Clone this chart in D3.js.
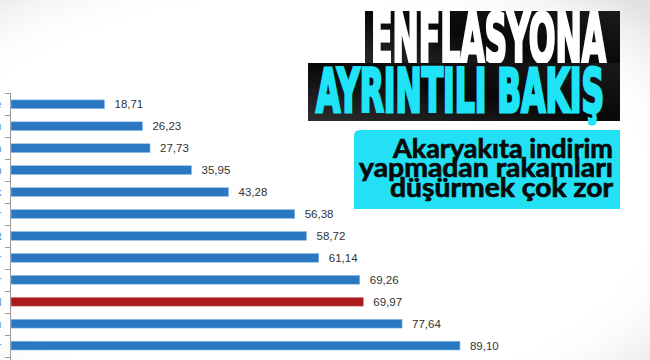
<!DOCTYPE html>
<html><head><meta charset="utf-8">
<script src="https://cdn.jsdelivr.net/npm/d3@7"></script>
<style>html,body{margin:0;padding:0;background:#fff;overflow:hidden}</style>
</head><body>
<script>
const categories = ["Haberleşme","Giyim ve ayakkabı","Eğitim","Alkollü içecekler ve tütün","Sağlık","Eğlence ve kültür","Konut","Çeşitli mal ve hizmetler","Lokanta ve oteller","Genel","Ev eşyası","Gıda ve alkolsüz içecekler"];
const values = [18.71,26.23,27.73,35.95,43.28,56.38,58.72,61.14,69.26,69.97,77.64,89.10];
const highlight = ["Genel"];
const titleLines = ["ENFLASYONA","AYRINTILI BAKIŞ"];
const subtitleLines = ["Akaryakıta indirim","yapmadan rakamları","düşürmek çok zor"];

const W = 650, H = 360;
const svg = d3.select("body").append("svg").attr("width", W).attr("height", H);
const defs = svg.append("defs");
const rg = defs.append("radialGradient").attr("id","vig").attr("cx","0.45").attr("cy","0.55").attr("r","0.75");
rg.append("stop").attr("offset","0.72").attr("stop-color","#ffffff").attr("stop-opacity",0);
rg.append("stop").attr("offset","1").attr("stop-color","#e2e2e2").attr("stop-opacity",1);
const bg = defs.append("linearGradient").attr("id","boxg").attr("x1","0").attr("y1","1").attr("x2","1").attr("y2","0");
bg.append("stop").attr("offset","0").attr("stop-color","#2e2e2e");
bg.append("stop").attr("offset","0.5").attr("stop-color","#080808");
bg.append("stop").attr("offset","1").attr("stop-color","#1a1a1a");

svg.append("rect").attr("width",W).attr("height",H).attr("fill","#fff");
svg.append("rect").attr("width",W).attr("height",H).attr("fill","url(#vig)");

const x = d3.scaleLinear().domain([0,100]).range([10,515]);
const y = d3.scaleBand().domain(categories).range([93.3,356.6]).paddingInner(0.6).paddingOuter(0.3);

const g = svg.append("g");
g.append("line").attr("x1",10.5).attr("x2",10.5).attr("y1",93).attr("y2",H).attr("stroke","#9a9a9a").attr("stroke-width",1);
const bounds = categories.map(c => y(c) - y.step()*y.paddingInner()/2).concat([y.range()[1]]);
g.selectAll("line.tick").data(bounds).join("line").attr("class","tick")
  .attr("x1",5).attr("x2",10).attr("y1",d=>Math.round(d)+0.5).attr("y2",d=>Math.round(d)+0.5)
  .attr("stroke","#9a9a9a");
// category labels, mostly outside the left edge as in the reference
g.selectAll("text.cat").data(categories).join("text").attr("class","cat")
  .attr("x",1.5).attr("y",d=>y(d)+y.bandwidth()/2+4).attr("text-anchor","end")
  .attr("font-family","Liberation Sans, Arial").attr("font-size",11).attr("fill","#5b8bb8").text(d=>d);
g.selectAll("rect.bar").data(categories).join("rect").attr("class","bar")
  .attr("x",x(0)+1).attr("y",d=>y(d)).attr("height",y.bandwidth())
  .attr("width",(d,i)=>x(values[i])-x(0)-1)
  .attr("fill",d=>highlight.includes(d)?"#ab1b1b":"#2b78c2")
  .attr("stroke",d=>highlight.includes(d)?"#d88a8a":"#8fbfe8").attr("stroke-width",0.6);
g.selectAll("text.val").data(categories).join("text").attr("class","val")
  .attr("x",(d,i)=>x(values[i])+10).attr("y",d=>y(d)+y.bandwidth()/2+4)
  .attr("font-family","Liberation Sans, Arial").attr("font-size",11.5).attr("fill","#333")
  .text((d,i)=>values[i].toFixed(2).replace(".",","));

// title boxes
svg.append("rect").attr("x",365).attr("y",11).attr("width",255).attr("height",60).attr("fill","url(#boxg)");
svg.append("text").attr("x",371).attr("y",62).attr("textLength",235).attr("lengthAdjust","spacingAndGlyphs")
  .attr("font-family","Liberation Sans Narrow, DejaVu Sans Condensed, Liberation Sans").attr("font-weight","bold")
  .attr("font-size",67).attr("fill","#fff").attr("stroke","#fff").attr("stroke-width",3.2).attr("stroke-linejoin","miter").text(titleLines[0]);
svg.append("rect").attr("x",308).attr("y",63).attr("width",312).attr("height",58).attr("fill","url(#boxg)");
svg.append("text").attr("x",316).attr("y",112).attr("textLength",288).attr("lengthAdjust","spacingAndGlyphs")
  .attr("font-family","Liberation Sans Narrow, DejaVu Sans Condensed, Liberation Sans").attr("font-weight","bold")
  .attr("font-size",61).attr("fill","#1fe3f6").attr("stroke","#1fe3f6").attr("stroke-width",3.2).attr("stroke-linejoin","miter").text(titleLines[1]);

// subtitle box
svg.append("path").attr("d","M354,136 Q354,130 360,130 L620,130 L620,209 L354,209 Z").attr("fill","#24e0f4");
const subX = [[393,220],[359,254],[390,223]];
const subY = [157.5,176.5,196.5];
svg.selectAll("text.sub").data(subtitleLines).join("text").attr("class","sub")
  .attr("x",(d,i)=>subX[i][0]).attr("y",(d,i)=>subY[i])
  .attr("textLength",(d,i)=>subX[i][1]).attr("lengthAdjust","spacingAndGlyphs")
  .attr("font-family","Lato, Noto Sans").attr("font-weight","bold").attr("font-size",26.5).attr("fill","#0a0a0a")
  .attr("stroke","#0a0a0a").attr("stroke-width",0.7).text(d=>d);
</script>
</body></html>
